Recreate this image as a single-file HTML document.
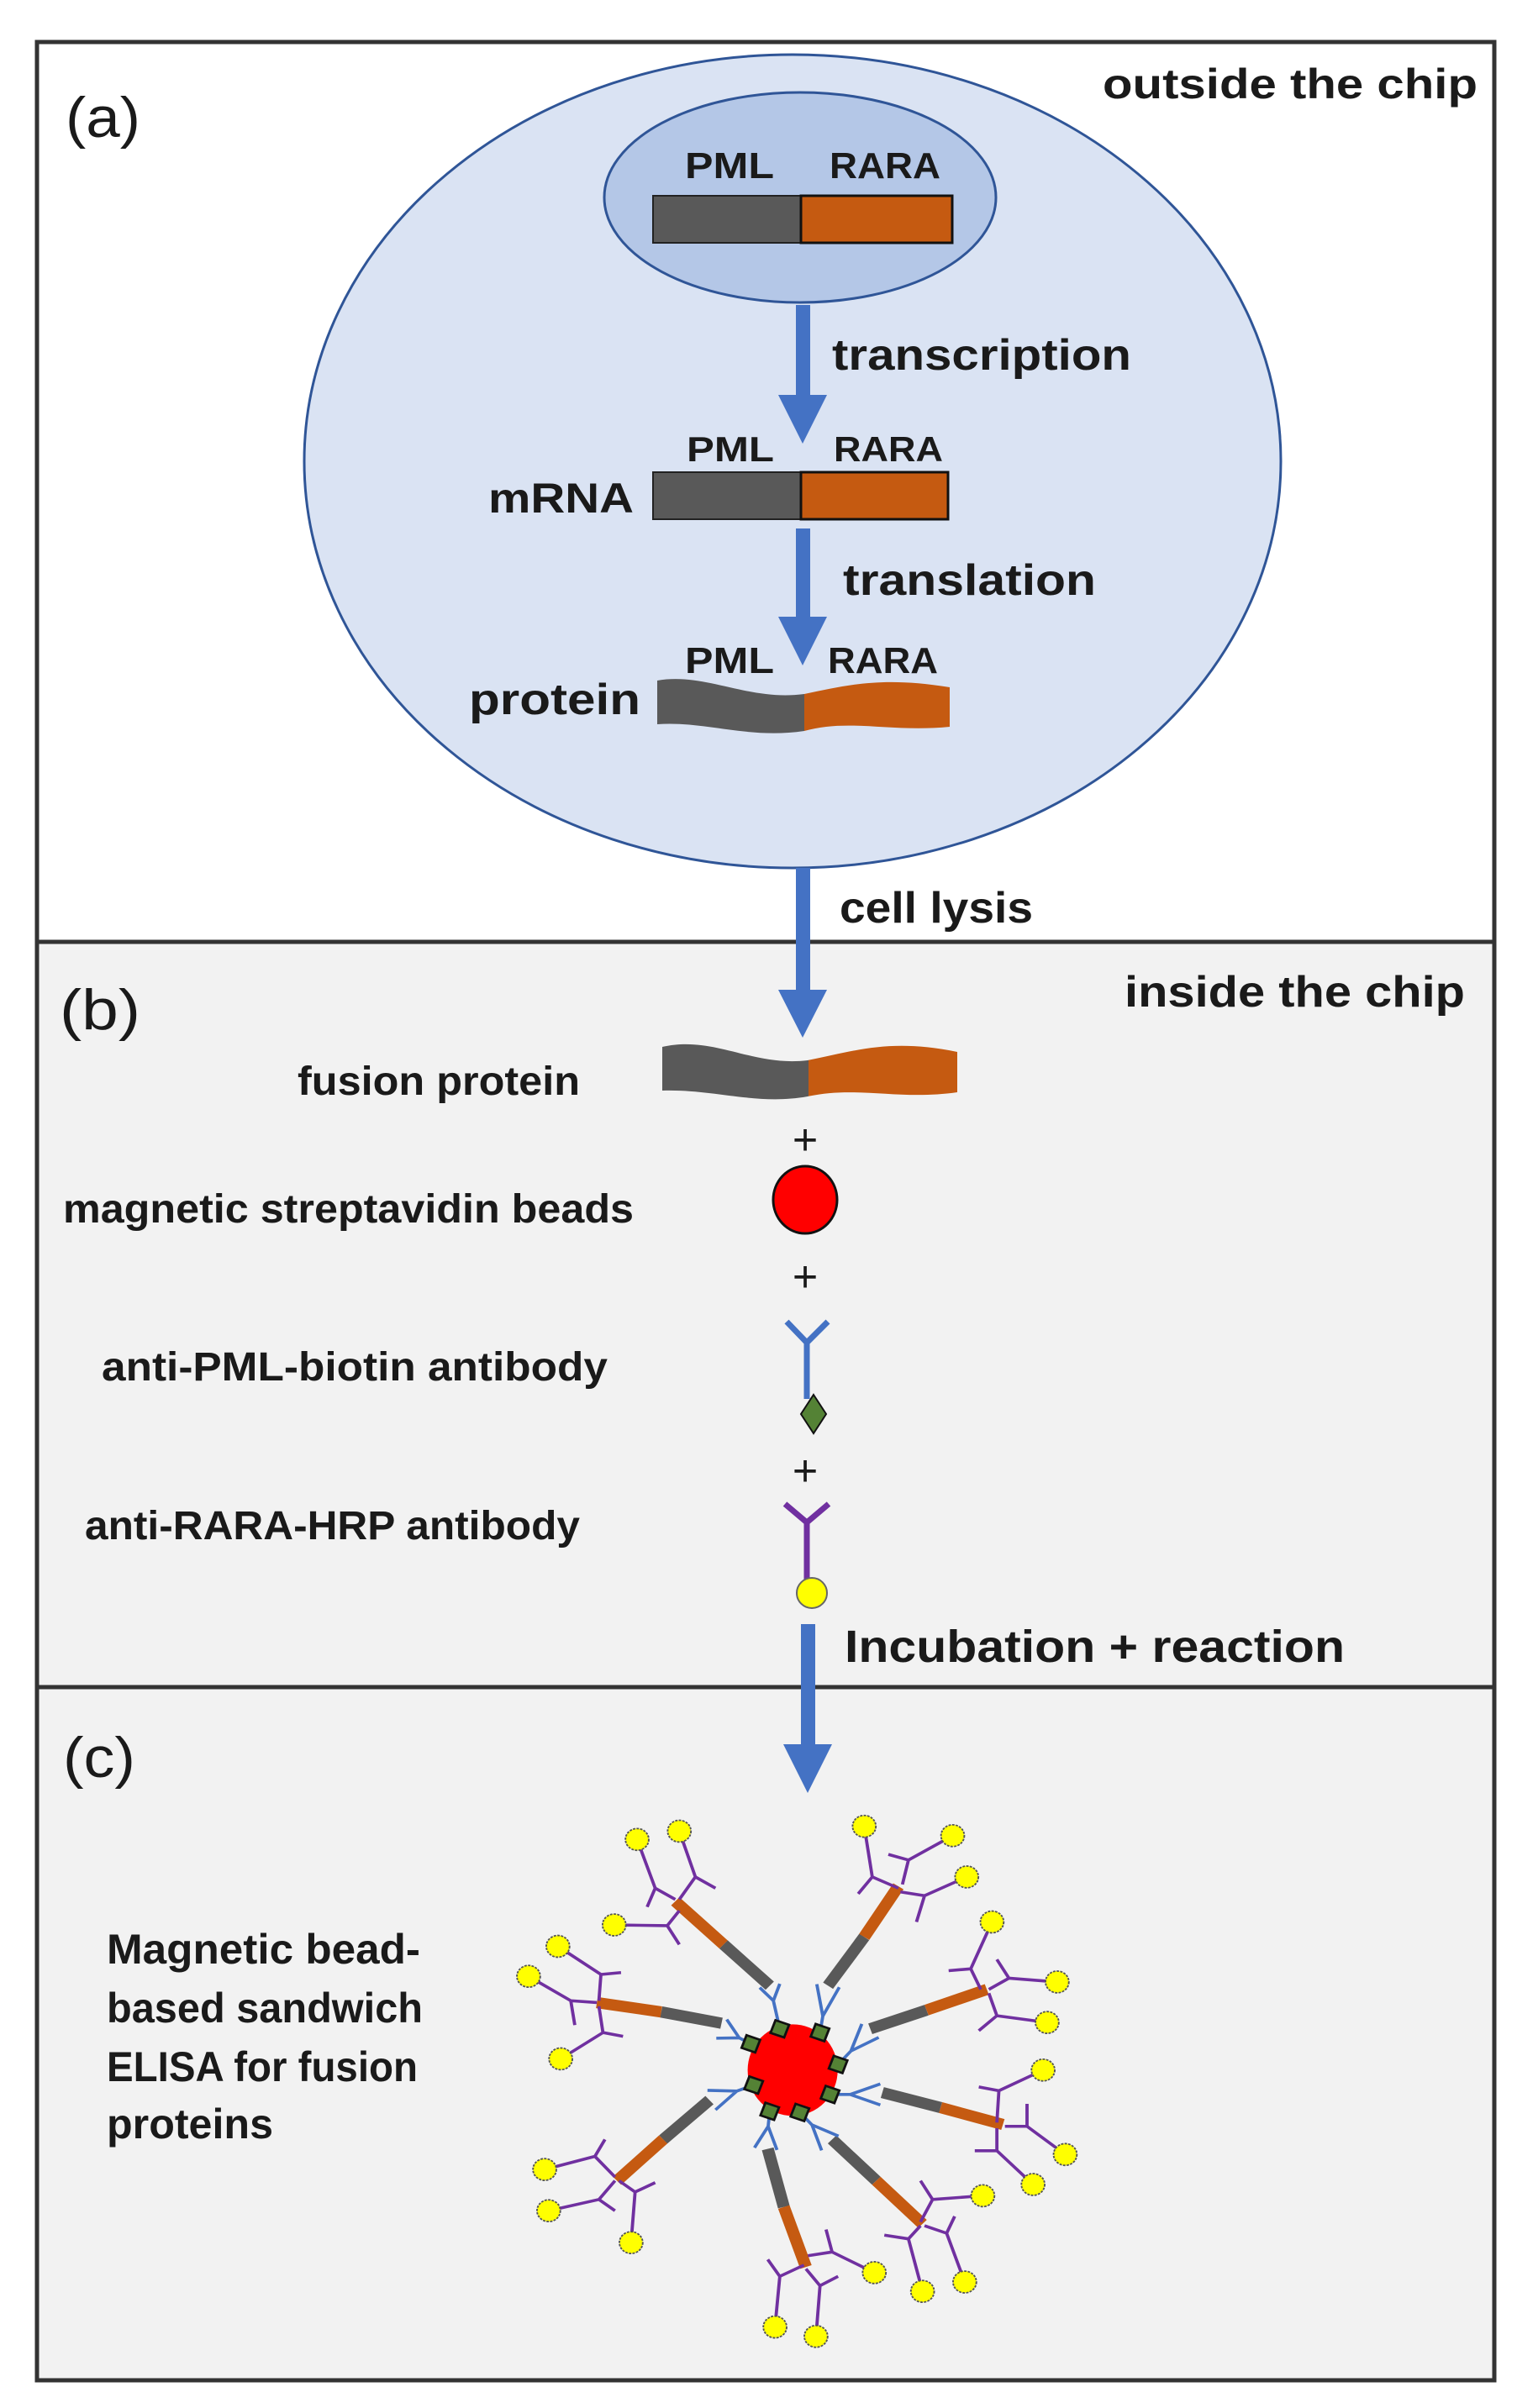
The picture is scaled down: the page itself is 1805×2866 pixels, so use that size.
<!DOCTYPE html>
<html><head><meta charset="utf-8"><style>
html,body{margin:0;padding:0;background:#fff}
svg{display:block}
text{font-family:"Liberation Sans",sans-serif;fill:#1a1a1a}
.b{font-weight:bold}
</style></head><body>
<svg width="1805" height="2866" viewBox="0 0 1805 2866" xmlns="http://www.w3.org/2000/svg">
<defs>
<clipPath id="gl"><rect x="0" y="0" width="957" height="2866"/></clipPath>
<clipPath id="gr"><rect x="957" y="0" width="900" height="2866"/></clipPath>
<clipPath id="gl2"><rect x="0" y="0" width="962" height="2866"/></clipPath>
<clipPath id="gr2"><rect x="962" y="0" width="900" height="2866"/></clipPath>
</defs>
<rect x="44" y="50" width="1734" height="1071" fill="#fff"/>
<rect x="44" y="1121" width="1734" height="887" fill="#f2f2f2"/>
<rect x="44" y="2008" width="1734" height="825" fill="#f2f2f2"/>
<rect x="44" y="50" width="1734" height="2783" fill="none" stroke="#333" stroke-width="5"/>
<line x1="44" y1="1121" x2="1778" y2="1121" stroke="#333" stroke-width="5"/>
<line x1="44" y1="2008" x2="1778" y2="2008" stroke="#333" stroke-width="5"/>

<ellipse cx="943" cy="549" rx="581" ry="484" fill="#dae3f3" stroke="#2f5597" stroke-width="3"/>
<ellipse cx="952" cy="235" rx="233" ry="125" fill="#b4c7e7" stroke="#2f5597" stroke-width="3"/>
<rect x="777" y="233" width="176" height="56" fill="#595959" stroke="#222" stroke-width="2"/>
<rect x="953" y="233" width="180" height="56" fill="#c55a11" stroke="#111" stroke-width="3"/>
<rect x="777" y="562" width="176" height="56" fill="#595959" stroke="#222" stroke-width="2"/>
<rect x="953" y="562" width="175" height="56" fill="#c55a11" stroke="#111" stroke-width="3"/>
<g>
<path d="M782,810 C840,800 890,835 957,826 C1010,815 1050,805 1130,818 L1130,865 C1060,872 1010,855 957,870 C890,880 840,858 782,862 Z" fill="#595959" clip-path="url(#gl)"/>
<path d="M782,810 C840,800 890,835 957,826 C1010,815 1050,805 1130,818 L1130,865 C1060,872 1010,855 957,870 C890,880 840,858 782,862 Z" fill="#c55a11" clip-path="url(#gr)"/>
</g>
<rect x="947" y="363" width="17" height="110" fill="#4472c4"/>
<polygon points="926,470 984,470 955,528" fill="#4472c4"/>
<rect x="947" y="629" width="17" height="108" fill="#4472c4"/>
<polygon points="926,734 984,734 955,792" fill="#4472c4"/>
<rect x="947" y="1033" width="17" height="148" fill="#4472c4"/>
<polygon points="926,1178 984,1178 955,1235" fill="#4472c4"/>

<text x="78" y="163" font-size="68" textLength="89" lengthAdjust="spacingAndGlyphs">(a)</text>
<text class="b" x="1312" y="117" font-size="50" textLength="446" lengthAdjust="spacingAndGlyphs">outside the chip</text>
<text class="b" x="815" y="212" font-size="44" textLength="106" lengthAdjust="spacingAndGlyphs">PML</text>
<text class="b" x="987" y="212" font-size="44" textLength="132" lengthAdjust="spacingAndGlyphs">RARA</text>
<text class="b" x="990" y="440" font-size="52" textLength="356" lengthAdjust="spacingAndGlyphs">transcription</text>
<text class="b" x="817" y="549" font-size="42" textLength="104" lengthAdjust="spacingAndGlyphs">PML</text>
<text class="b" x="992" y="549" font-size="42" textLength="130" lengthAdjust="spacingAndGlyphs">RARA</text>
<text class="b" x="581" y="610" font-size="50" textLength="173" lengthAdjust="spacingAndGlyphs">mRNA</text>
<text class="b" x="1003" y="708" font-size="52" textLength="301" lengthAdjust="spacingAndGlyphs">translation</text>
<text class="b" x="815" y="801" font-size="44" textLength="106" lengthAdjust="spacingAndGlyphs">PML</text>
<text class="b" x="985" y="801" font-size="44" textLength="131" lengthAdjust="spacingAndGlyphs">RARA</text>
<text class="b" x="558" y="850" font-size="52" textLength="204" lengthAdjust="spacingAndGlyphs">protein</text>
<text class="b" x="999" y="1098" font-size="52" textLength="230" lengthAdjust="spacingAndGlyphs">cell lysis</text>

<text x="71" y="1225" font-size="68" textLength="96" lengthAdjust="spacingAndGlyphs">(b)</text>
<text class="b" x="1338" y="1198" font-size="52" textLength="405" lengthAdjust="spacingAndGlyphs">inside the chip</text>
<text class="b" x="354" y="1303" font-size="48" textLength="336" lengthAdjust="spacingAndGlyphs">fusion protein</text>
<path d="M788,1246 C850,1232 895,1270 961,1262 C1020,1250 1060,1236 1139,1252 L1139,1300 C1070,1310 1020,1292 961,1305 C900,1316 850,1296 788,1298 Z" fill="#595959" clip-path="url(#gl2)"/>
<path d="M788,1246 C850,1232 895,1270 961,1262 C1020,1250 1060,1236 1139,1252 L1139,1300 C1070,1310 1020,1292 961,1305 C900,1316 850,1296 788,1298 Z" fill="#c55a11" clip-path="url(#gr2)"/>
<text x="958" y="1374" font-size="52" text-anchor="middle">+</text>
<text class="b" x="75" y="1455" font-size="48" textLength="679" lengthAdjust="spacingAndGlyphs">magnetic streptavidin beads</text>
<ellipse cx="958" cy="1428" rx="38" ry="40" fill="#ff0000" stroke="#111" stroke-width="3"/>
<text x="958" y="1537" font-size="52" text-anchor="middle">+</text>
<text class="b" x="121" y="1643" font-size="48" textLength="602" lengthAdjust="spacingAndGlyphs">anti-PML-biotin antibody</text>
<g stroke="#4472c4" stroke-width="7" fill="none">
<line x1="960" y1="1598" x2="960" y2="1665"/>
<line x1="960" y1="1598" x2="936" y2="1573"/>
<line x1="960" y1="1598" x2="985" y2="1573"/>
</g>
<polygon points="968,1660 983,1683 968,1706 953,1683" fill="#548235" stroke="#111" stroke-width="2"/>
<text x="958" y="1768" font-size="52" text-anchor="middle">+</text>
<text class="b" x="101" y="1832" font-size="48" textLength="589" lengthAdjust="spacingAndGlyphs">anti-RARA-HRP antibody</text>
<g stroke="#7030a0" stroke-width="7" fill="none">
<line x1="960" y1="1812" x2="960" y2="1885"/>
<line x1="960" y1="1812" x2="934" y2="1790"/>
<line x1="960" y1="1812" x2="986" y2="1790"/>
</g>
<circle cx="966" cy="1896" r="18" fill="#ffff00" stroke="#666" stroke-width="2"/>
<rect x="953" y="1933" width="17" height="146" fill="#4472c4"/>
<polygon points="932,2076 990,2076 961,2134" fill="#4472c4"/>
<text class="b" x="1005" y="1978" font-size="54" textLength="595" lengthAdjust="spacingAndGlyphs">Incubation + reaction</text>

<text x="75" y="2115" font-size="68" textLength="86" lengthAdjust="spacingAndGlyphs">(c)</text>
<text class="b" x="127" y="2337" font-size="50" textLength="373" lengthAdjust="spacingAndGlyphs">Magnetic bead-</text>
<text class="b" x="127" y="2407" font-size="50" textLength="376" lengthAdjust="spacingAndGlyphs">based sandwich</text>
<text class="b" x="127" y="2477" font-size="50" textLength="370" lengthAdjust="spacingAndGlyphs">ELISA for fusion</text>
<text class="b" x="127" y="2545" font-size="50" textLength="198" lengthAdjust="spacingAndGlyphs">proteins</text>

<g transform="translate(550,2100) scale(0.4783,0.4464)">
<g stroke-width="30" stroke-linecap="butt" fill="none">
<g stroke="#595959">
<line x1="765" y1="590" x2="650" y2="480"/>
<line x1="910" y1="590" x2="1000" y2="460"/>
<line x1="1015" y1="705" x2="1155" y2="655"/>
<line x1="1045" y1="875" x2="1190" y2="915"/>
<line x1="920" y1="1000" x2="1030" y2="1110"/>
<line x1="760" y1="1025" x2="800" y2="1180"/>
<line x1="615" y1="895" x2="500" y2="1000"/>
<line x1="645" y1="690" x2="495" y2="660"/>
</g>
<g stroke="#c55a11">
<line x1="650" y1="480" x2="530" y2="365"/>
<line x1="1000" y1="460" x2="1085" y2="325"/>
<line x1="1155" y1="655" x2="1305" y2="600"/>
<line x1="1190" y1="915" x2="1345" y2="960"/>
<line x1="1030" y1="1110" x2="1145" y2="1225"/>
<line x1="800" y1="1180" x2="855" y2="1340"/>
<line x1="500" y1="1000" x2="385" y2="1110"/>
<line x1="495" y1="660" x2="335" y2="635"/>
</g>
</g>
<g stroke="#4472c4" stroke-width="8" fill="none">
<path d="M790,705 L774,630 M774,630 L790,585 M774,630 L740,595"/>
<path d="M890,715 L897,671 M897,671 L938,594 M897,671 L882,586"/>
<path d="M935,800 L967,764 M967,764 L1036,728 M967,764 L994,692"/>
<path d="M915,880 L965,880 M965,880 L1040,908 M965,880 L1040,852"/>
<path d="M840,928 L870,961 M870,961 L894,1029 M870,961 L936,991"/>
<path d="M765,925 L761,965 M761,965 L727,1022 M761,965 L783,1028"/>
<path d="M725,855 L683,871 M683,871 L610,869 M683,871 L630,921"/>
<path d="M718,745 L689,729 M689,729 L658,680 M689,729 L632,730"/>
</g>
<g stroke="#7030a0" stroke-width="8" fill="none" stroke-linejoin="round">
<path d="M435,200 L480,330 L530,360 M480,330 L460,380 M540,178 L580,300 L540,360 M580,300 L630,330 M378,428 L510,430 L540,390 M510,430 L540,480"/>
<path d="M1000,165 L1020,300 L1085,330 M1020,300 L985,345 M1220,190 L1110,255 L1095,320 M1110,255 L1060,240 M1255,300 L1150,350 L1090,340 M1150,350 L1130,420"/>
<path d="M1318,420 L1265,545 L1290,600 M1265,545 L1210,550 M1480,580 L1360,570 L1310,600 M1360,570 L1330,520 M1455,688 L1330,670 L1310,610 M1330,670 L1285,710"/>
<path d="M1445,815 L1335,870 L1330,955 M1335,870 L1285,860 M1500,1040 L1405,965 L1350,965 M1405,965 L1405,905 M1420,1120 L1330,1030 L1330,970 M1330,1030 L1275,1030"/>
<path d="M1295,1150 L1170,1160 L1140,1220 M1170,1160 L1140,1110 M1145,1405 L1110,1265 L1140,1230 M1110,1265 L1050,1255 M1250,1380 L1205,1250 L1150,1230 M1205,1250 L1225,1205"/>
<path d="M1025,1355 L920,1300 L860,1310 M920,1300 L905,1240 M778,1500 L790,1365 L850,1335 M790,1365 L760,1320 M880,1525 L890,1390 L855,1345 M890,1390 L935,1365"/>
<path d="M205,1080 L330,1045 L380,1100 M330,1045 L355,1000 M215,1190 L340,1160 L380,1110 M340,1160 L380,1190 M420,1275 L430,1140 L390,1110 M430,1140 L480,1115"/>
<path d="M238,485 L345,560 L340,630 M345,560 L395,555 M165,565 L270,630 L335,635 M270,630 L280,695 M245,785 L350,715 L340,645 M350,715 L400,725"/>
</g>
<g fill="#ffff00" stroke="#555" stroke-width="4" stroke-dasharray="6 3">
<circle cx="435" cy="200" r="29"/><circle cx="540" cy="178" r="29"/><circle cx="378" cy="428" r="29"/>
<circle cx="1000" cy="165" r="29"/><circle cx="1220" cy="190" r="29"/><circle cx="1255" cy="300" r="29"/>
<circle cx="1318" cy="420" r="29"/><circle cx="1480" cy="580" r="29"/><circle cx="1455" cy="688" r="29"/>
<circle cx="1445" cy="815" r="29"/><circle cx="1500" cy="1040" r="29"/><circle cx="1420" cy="1120" r="29"/>
<circle cx="1295" cy="1150" r="29"/><circle cx="1145" cy="1405" r="29"/><circle cx="1250" cy="1380" r="29"/>
<circle cx="1025" cy="1355" r="29"/><circle cx="778" cy="1500" r="29"/><circle cx="880" cy="1525" r="29"/>
<circle cx="205" cy="1080" r="29"/><circle cx="215" cy="1190" r="29"/><circle cx="420" cy="1275" r="29"/>
<circle cx="238" cy="485" r="29"/><circle cx="165" cy="565" r="29"/><circle cx="245" cy="785" r="29"/>
</g>
<ellipse cx="822" cy="815" rx="112" ry="122" fill="#ff0000"/>
<g fill="#548235" stroke="#111" stroke-width="6">
<rect x="772" y="687" width="36" height="36" transform="rotate(20 790 705)"/>
<rect x="872" y="697" width="36" height="36" transform="rotate(20 890 715)"/>
<rect x="700" y="727" width="36" height="36" transform="rotate(20 718 745)"/>
<rect x="917" y="782" width="36" height="36" transform="rotate(20 935 800)"/>
<rect x="707" y="837" width="36" height="36" transform="rotate(20 725 855)"/>
<rect x="897" y="862" width="36" height="36" transform="rotate(20 915 880)"/>
<rect x="747" y="907" width="36" height="36" transform="rotate(20 765 925)"/>
<rect x="822" y="910" width="36" height="36" transform="rotate(20 840 928)"/>
</g>
</g>
</svg>
</body></html>
